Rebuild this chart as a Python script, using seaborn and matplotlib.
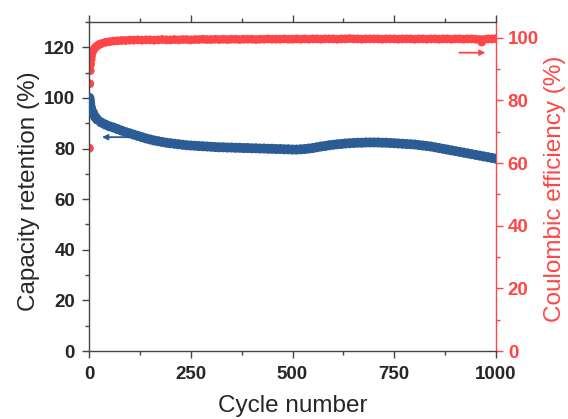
import numpy as np
import pandas as pd
import matplotlib
matplotlib.use('Agg')
import matplotlib.pyplot as plt
from matplotlib.ticker import MultipleLocator
import seaborn as sns

# capacity retention (%)
cap_cycles = [1, 2, 3, 5, 8, 10, 15, 20, 30, 40, 50, 60, 70, 80, 90,
              100, 110, 120, 130, 140, 150, 160, 170, 180, 190,
              200, 210, 220, 230, 240, 250, 260, 270, 280, 290,
              300, 310, 320, 330, 340, 350, 360, 370, 380, 390,
              400, 410, 420, 430, 440, 450, 460, 470, 480, 490,
              500, 510, 520, 530, 540, 550, 560, 570, 580, 590,
              600, 610, 620, 630, 640, 650, 660, 670, 680, 690,
              700, 710, 720, 730, 740, 750, 760, 770, 780, 790,
              800, 810, 820, 830, 840, 850, 860, 870, 880, 890,
              900, 910, 920, 930, 940, 950, 960, 970, 980, 990, 1000]
cap_values = [100.0, 99.0, 97.5, 96.0, 94.5, 94.0, 92.5, 91.5, 90.3, 89.5, 88.8, 88.3, 87.7, 87.1, 86.5,
              86.0, 85.5, 85.0, 84.5, 84.0, 83.6, 83.2, 82.9, 82.6, 82.3,
              82.1, 81.9, 81.7, 81.5, 81.3, 81.2, 81.1, 81.0, 80.9, 80.8,
              80.7, 80.6, 80.5, 80.5, 80.4, 80.4, 80.3, 80.3, 80.2, 80.2,
              80.1, 80.1, 80.0, 80.0, 79.9, 79.9, 79.8, 79.8, 79.7, 79.7,
              79.6, 79.6, 79.7, 79.8, 80.0, 80.2, 80.5, 80.8, 81.0, 81.3,
              81.5, 81.7, 81.8, 82.0, 82.1, 82.2, 82.3, 82.3, 82.4, 82.4,
              82.4, 82.4, 82.3, 82.3, 82.2, 82.1, 82.0, 81.9, 81.8, 81.7,
              81.6, 81.4, 81.2, 81.0, 80.8, 80.5, 80.2, 79.9, 79.6, 79.3,
              79.0, 78.7, 78.4, 78.1, 77.8, 77.5, 77.2, 76.9, 76.6, 76.3, 76.0]

# coulombic efficiency (%)
ce_cycles = [1, 2, 3, 4, 5, 6, 8, 10, 15, 20, 25, 30, 40, 50, 60, 70, 80, 90,
             100, 110, 120, 130, 140, 150, 160, 170, 180, 190,
             200, 210, 220, 230, 240, 250, 260, 270, 280, 290,
             300, 310, 320, 330, 340, 350, 360, 370, 380, 390,
             400, 410, 420, 430, 440, 450, 460, 470, 480, 490,
             500, 510, 520, 530, 540, 550, 560, 570, 580, 590,
             600, 610, 620, 630, 640, 650, 660, 670, 680, 690,
             700, 710, 720, 730, 740, 750, 760, 770, 780, 790,
             800, 810, 820, 830, 840, 850, 860, 870, 880, 890,
             900, 910, 920, 930, 940, 950, 960, 965, 970, 980, 990, 1000]
ce_values = [64.7, 85.3, 89.5, 91.5, 93.0, 94.0, 95.2, 96.0, 96.8, 97.4, 97.8, 98.1, 98.5, 98.7, 98.9, 99.0, 99.1, 99.1,
             99.2, 99.2, 99.3, 99.2, 99.3, 99.3, 99.2, 99.3, 99.4, 99.3,
             99.3, 99.4, 99.3, 99.4, 99.4, 99.3, 99.4, 99.4, 99.5, 99.4,
             99.4, 99.5, 99.4, 99.5, 99.4, 99.5, 99.5, 99.4, 99.5, 99.5,
             99.5, 99.4, 99.5, 99.5, 99.6, 99.5, 99.5, 99.5, 99.6, 99.5,
             99.5, 99.6, 99.5, 99.6, 99.5, 99.6, 99.6, 99.5, 99.6, 99.6,
             99.6, 99.5, 99.6, 99.6, 99.7, 99.6, 99.6, 99.5, 99.6, 99.6,
             99.6, 99.6, 99.5, 99.6, 99.6, 99.6, 99.5, 99.6, 99.6, 99.6,
             99.5, 99.6, 99.6, 99.5, 99.6, 99.6, 99.5, 99.6, 99.6, 99.5,
             99.6, 99.6, 99.5, 99.6, 99.6, 99.5, 99.4, 98.6, 99.4, 99.6, 99.6, 99.7]

blue = '#2B5C95'
red = '#FF4646'

sns.set_style('ticks')
plt.rcParams['font.family'] = ['Liberation Sans', 'DejaVu Sans']

cap_df = pd.DataFrame({'cycle': cap_cycles, 'retention': cap_values})
ce_df = pd.DataFrame({'cycle': ce_cycles, 'ce': ce_values})

fig = plt.figure(figsize=(5.68, 4.19), dpi=100)
ax = fig.add_axes([89 / 568, 1 - 351 / 419, (496 - 89) / 568, (351 - 22) / 419])
ax2 = ax.twinx()

sns.scatterplot(data=cap_df, x='cycle', y='retention', ax=ax, color=blue,
                s=52, edgecolor='none', linewidth=0, zorder=3)
sns.scatterplot(data=ce_df, x='cycle', y='ce', ax=ax2, color=red,
                s=40, edgecolor='none', linewidth=0, zorder=3)

ax.set_xlim(0, 1000)
ax.set_ylim(0, 130)
ax2.set_ylim(0, 105)

ax.xaxis.set_major_locator(MultipleLocator(250))
ax.xaxis.set_minor_locator(MultipleLocator(125))
ax.yaxis.set_minor_locator(MultipleLocator(10))
ax2.yaxis.set_major_locator(MultipleLocator(20))
ax2.yaxis.set_minor_locator(MultipleLocator(10))
ax.set_yticks([0, 20, 40, 60, 80, 100, 120])

ax.tick_params(axis='both', which='major', direction='out', length=5, width=1,
               labelsize=13.5, color='#444444', top=True)
ax.tick_params(axis='x', which='major', pad=6)
ax.tick_params(axis='y', which='major', pad=5)
ax.tick_params(axis='both', which='minor', direction='out', length=3, width=1,
               color='#444444', top=True)
ax2.tick_params(axis='y', which='major', direction='out', length=5, width=1,
                labelsize=13.5, color=red, labelcolor=red, pad=3.5)
ax2.tick_params(axis='y', which='minor', direction='out', length=3, width=1, color=red)

for lab in ax.get_xticklabels() + ax.get_yticklabels() + ax2.get_yticklabels():
    lab.set_fontweight('bold')

for side in ['left', 'bottom', 'top']:
    ax.spines[side].set_color('#444444')
    ax.spines[side].set_linewidth(1)
ax.spines['right'].set_visible(False)
ax2.spines['right'].set_color(red)
ax2.spines['right'].set_linewidth(1)
for side in ['left', 'bottom', 'top']:
    ax2.spines[side].set_visible(False)

ax.set_xlabel('Cycle number', fontsize=17.5)
ax.set_ylabel('Capacity retention (%)', fontsize=17.5)
ax2.set_ylabel('Coulombic efficiency (%)', fontsize=17.5, color=red)
ax.xaxis.set_label_coords(0.5, -0.135)
ax.yaxis.set_label_coords(-0.12, 0.486)
ax2.yaxis.set_label_coords(1.118, 0.494)

# arrows pointing to each curve's axis
ax.annotate('', xy=(25, 84.5), xytext=(106, 84.5),
            arrowprops=dict(arrowstyle='-|>', color=blue, lw=1.3, mutation_scale=8))
ax2.annotate('', xy=(981, 95.2), xytext=(903, 95.2),
             arrowprops=dict(arrowstyle='-|>', color=red, lw=1.3, mutation_scale=8))

ax.set_zorder(ax2.get_zorder() + 1)
ax.patch.set_visible(False)

fig.savefig('out.png', dpi=100)
